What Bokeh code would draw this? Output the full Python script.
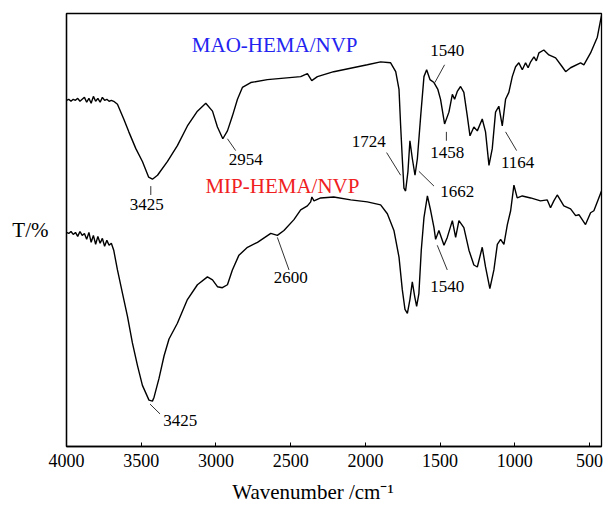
from bokeh.plotting import figure
from bokeh.models import Range1d, FixedTicker, Label, ColumnDataSource
from bokeh.core.properties import value
from bokeh.embed import file_html
from bokeh.resources import INLINE

# ---------------- data (wavenumber / cm-1, transmittance in arbitrary units) -------------
mao_wn = [4000, 3985, 3970, 3955, 3940, 3925, 3910, 3895, 3880, 3865, 3850, 3835, 3820, 3805,
          3790, 3775, 3760, 3745, 3730, 3715, 3700, 3684, 3659, 3617, 3583, 3536, 3492, 3450,
          3425, 3391, 3324, 3258, 3191, 3124, 3068, 3023, 2990, 2954, 2923, 2890, 2856, 2823,
          2767, 2656, 2433, 2388, 2359, 2321, 2212, 1987, 1898, 1831, 1797, 1775, 1764, 1753,
          1742, 1731, 1715, 1702, 1686, 1668, 1652, 1630, 1608, 1590, 1568, 1541, 1515, 1497,
          1470, 1441, 1418, 1403, 1385, 1363, 1341, 1318, 1300, 1274, 1251, 1218, 1196, 1173,
          1151, 1129, 1107, 1084, 1062, 1040, 1017, 995, 973, 950, 928, 911, 894, 872, 856,
          839, 806, 772, 727, 683, 660, 627, 560, 538, 493, 448, 420]
mao_t = [351, 352, 350, 352, 351, 353, 350, 352, 354, 349, 353, 348, 355, 350,
         353, 349, 354, 351, 352, 350, 351, 350, 347, 332, 319, 302, 289, 273,
         271, 275, 289, 305, 325, 340, 348, 340, 324, 312, 320, 335, 352, 364,
         369, 372, 375, 378, 371, 375, 380, 387, 390, 389, 380, 362, 325, 292,
         262, 259, 279, 310, 292, 275, 292, 335, 375, 382, 372, 369, 362, 352,
         327, 339, 357, 352, 360, 365, 359, 335, 315, 324, 320, 332, 319, 285,
         302, 339, 345, 325, 352, 359, 375, 385, 389, 382, 389, 384, 390, 395, 391,
         399, 402, 397, 394, 385, 380, 384, 389, 387, 399, 415, 437]

mip_wn = [4000, 3985, 3970, 3955, 3940, 3925, 3910, 3895, 3880, 3865, 3850, 3835, 3820, 3805,
          3790, 3775, 3760, 3745, 3730, 3715, 3700, 3684, 3659, 3625, 3592, 3559, 3525, 3492,
          3448, 3425, 3414, 3381, 3347, 3314, 3258, 3191, 3124, 3057, 3023, 2990, 2957, 2923,
          2890, 2846, 2789, 2722, 2633, 2589, 2545, 2478, 2433, 2388, 2366, 2358, 2344, 2299,
          2212, 2098, 1987, 1898, 1853, 1809, 1775, 1753, 1735, 1719, 1702, 1686, 1670, 1657,
          1642, 1626, 1608, 1585, 1563, 1541, 1530, 1508, 1474, 1452, 1418, 1396, 1374, 1341,
          1307, 1274, 1251, 1218, 1196, 1167, 1140, 1117, 1095, 1073, 1050, 1028, 1006, 984,
          950, 894, 828, 783, 761, 739, 716, 672, 627, 593, 571, 549, 527, 493, 471, 438, 420]
mip_t = [217, 216, 218, 215, 217, 213, 218, 214, 216, 210, 217, 207, 214, 205,
         213, 206, 211, 203, 209, 204, 206, 199, 179, 155, 132, 105, 82, 62,
         47, 46, 50, 69, 92, 109, 125, 149, 164, 172, 169, 162, 161, 164,
         179, 194, 202, 207, 216, 214, 219, 230, 240, 244, 248, 253, 249, 252,
         253, 250, 248, 245, 236, 219, 192, 159, 139, 135, 149, 167, 152, 142,
         155, 199, 232, 254, 239, 222, 210, 219, 204, 212, 229, 212, 229, 222,
         199, 184, 182, 202, 182, 160, 179, 205, 210, 205, 225, 239, 265, 252,
         254, 252, 249, 250, 242, 249, 255, 244, 241, 234, 235, 230, 225, 237, 239, 252, 259]

# peak annotations: label text, text anchor, leader line ends
ann_text = ["3425", "2954", "1540", "1458", "1164", "1724", "1662", "2600", "3425", "1540"]
ann_x = [3463, 2801, 1452, 1452, 981, 1978, 1385, 2500, 3239, 1452]
ann_y = [245, 291, 401, 298, 287.5, 309.5, 259, 171.5, 26.5, 162.5]
lead_x0 = [3436, 2923, 1470, 1458, 1062, 1858, 1642, 2589, 3441, 1519]
lead_y0 = [264, 312, 387, 319, 319, 298, 279, 212, 43, 204]
lead_x1 = [3436, 2868, 1535, 1458, 988, 1764, 1541, 2511, 3374, 1452]
lead_y1 = [255, 300, 369, 310, 300, 275, 264, 179, 33, 179]

x_ticks = [4000, 3500, 3000, 2500, 2000, 1500, 1000, 500]

SERIF = "Liberation Serif"
NBSP = "\u00a0"

p = figure(width=605, height=506, output_backend="svg", toolbar_location=None,
           x_range=Range1d(4000, 420), y_range=Range1d(0, 439),
           min_border_left=66, min_border_right=4, min_border_top=13, min_border_bottom=54)
p.background_fill_color = "white"
p.border_fill_color = "white"
p.outline_line_color = "black"
p.outline_line_width = 1.3
p.grid.visible = False

ax = p.xaxis[0]
ax.ticker = FixedTicker(ticks=x_ticks)
ax.minor_tick_line_color = None
ax.major_tick_in = 4
ax.major_tick_out = 0
ax.major_tick_line_color = "black"
ax.axis_line_color = "black"
ax.axis_line_width = 1.3
ax.major_label_text_font = SERIF
ax.major_label_text_font_size = "18px"
ax.major_label_text_color = "black"
ax.major_label_standoff = 7
ax.axis_label = "Wavenumber /cm\u207b\u00b9" + NBSP * 8
ax.axis_label_text_font = SERIF
ax.axis_label_text_font_size = "21px"
ax.axis_label_text_font_style = "normal"
ax.axis_label_text_color = "black"
ax.axis_label_standoff = 10

yax = p.yaxis[0]
yax.ticker = FixedTicker(ticks=[])
yax.minor_tick_line_color = None
yax.major_tick_line_color = None
yax.axis_line_color = "black"
yax.axis_line_width = 1.3
yax.axis_label = "T/%"
yax.axis_label_orientation = "horizontal"
yax.axis_label_text_font = SERIF
yax.axis_label_text_font_size = "21px"
yax.axis_label_text_font_style = "normal"
yax.axis_label_text_color = "black"
yax.axis_label_standoff = 18

p.line(mao_wn, mao_t, line_color="black", line_width=1.4)
p.line(mip_wn, mip_t, line_color="black", line_width=1.4)

p.segment(x0=lead_x0, y0=lead_y0, x1=lead_x1, y1=lead_y1, line_color="#333333", line_width=1)
src = ColumnDataSource(dict(x=ann_x, y=ann_y, t=ann_text))
p.text(x="x", y="y", text="t", source=src, text_font=value(SERIF), text_font_size="17px",
       text_color="black", text_align="center", text_baseline="middle")

p.add_layout(Label(x=2607, y=407, text="MAO-HEMA/NVP", text_font=SERIF, text_font_size="21px",
                   text_color="#2424f0", text_align="center", text_baseline="middle"))
p.add_layout(Label(x=2555, y=264, text="MIP-HEMA/NVP", text_font=SERIF, text_font_size="21px",
                   text_color="#f02020", text_align="center", text_baseline="middle"))

open("out.html", "w").write(file_html(p, INLINE))
